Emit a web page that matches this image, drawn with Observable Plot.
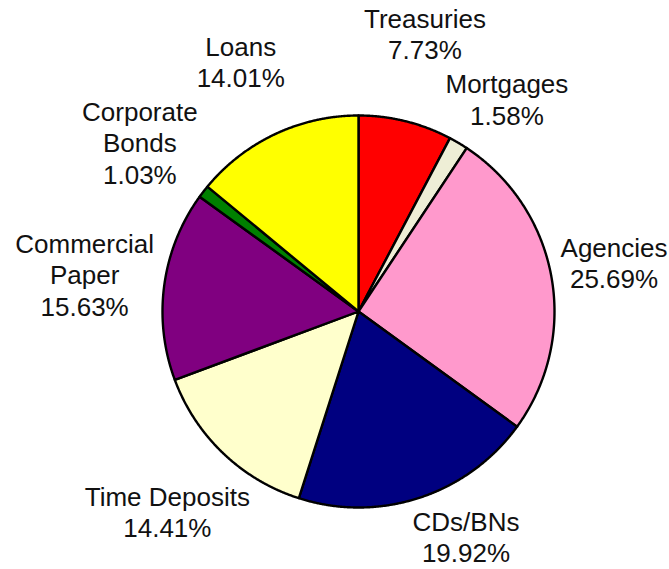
<!DOCTYPE html>
<html>
<head>
<meta charset="utf-8">
<script src="https://cdn.jsdelivr.net/npm/d3@7"></script>
<script src="https://cdn.jsdelivr.net/npm/@observablehq/plot@0.6"></script>
<style>
  html, body { margin: 0; padding: 0; background: #ffffff; }
  #chart svg { display: block; }
</style>
</head>
<body>
<div id="chart"></div>
<script>
// ---- data ----
const categories = ["Treasuries", "Mortgages", "Agencies", "CDs/BNs", "Time Deposits", "Commercial Paper", "Corporate Bonds", "Loans"];
const labelNames = ["Treasuries", "Mortgages", "Agencies", "CDs/BNs", "Time Deposits", "Commercial\nPaper", "Corporate\nBonds", "Loans"];
const shares = [7.73, 1.58, 25.69, 19.92, 14.41, 15.63, 1.03, 14.01];
// ---- style ----
const colors = ["#ff0000", "#eeeed6", "#ff99cc", "#000080", "#ffffcc", "#800080", "#008000", "#ffff00"];

const W = 669, H = 569, cx = 358, cy = 311, r = 196;
const FONT = "'Liberation Sans', Arial, sans-serif";
const fontSize = 26, lineH = 1.2;

const arcs = d3.pie().sort(null).value(d => d)(shares);

// slice outlines in unit-circle coordinates (angle clockwise from 12 o'clock)
const slicePts = arcs.map(a => {
  const pts = [{x: 0, y: 0}];
  const n = Math.max(4, Math.ceil((a.endAngle - a.startAngle) / (Math.PI / 720)));
  for (let k = 0; k <= n; k++) {
    const t = a.startAngle + (a.endAngle - a.startAngle) * k / n;
    pts.push({x: Math.sin(t), y: Math.cos(t)});
  }
  pts.push({x: 0, y: 0});
  return pts;
});

// ---- label layout: radial start, then keep clear of pie, each other and edges ----
const ctx = document.createElement("canvas").getContext("2d");
ctx.font = `${fontSize}px ${FONT}`;
const texts = arcs.map((a, i) => labelNames[i] + "\n" + shares[i].toFixed(2) + "%");
const boxes = arcs.map((a, i) => {
  const lines = texts[i].split("\n");
  const w = Math.max(...lines.map(l => ctx.measureText(l).width));
  const h = lines.length * fontSize * lineH;
  const m = (a.startAngle + a.endAngle) / 2;
  const R = 1.41 * r;
  return {w, h, m, px: cx + R * Math.sin(m), py: cy - R * Math.cos(m)};
});
const gap = 5, pad = 3, edge = 2;
for (let it = 0; it < 400; it++) {
  // out of the pie
  for (const b of boxes) {
    const nx = Math.max(b.px - b.w / 2, Math.min(cx, b.px + b.w / 2));
    const ny = Math.max(b.py - b.h / 2, Math.min(cy, b.py + b.h / 2));
    const d = Math.hypot(nx - cx, ny - cy);
    if (d < r + gap) {
      const k = (r + gap - d) * 0.5;
      b.px += k * Math.sin(b.m);
      b.py -= k * Math.cos(b.m);
    }
  }
  // apart from each other
  for (let i = 0; i < boxes.length; i++) for (let j = i + 1; j < boxes.length; j++) {
    const A = boxes[i], B = boxes[j];
    const ox = (A.w + B.w) / 2 + pad - Math.abs(A.px - B.px);
    const oy = (A.h + B.h) / 2 + pad - Math.abs(A.py - B.py);
    if (ox > 0 && oy > 0) {
      if (ox < oy) {
        const s = Math.sign(B.px - A.px) || 1;
        A.px -= s * ox * 0.25; B.px += s * ox * 0.25;
      } else {
        const s = Math.sign(B.py - A.py) || 1;
        A.py -= s * oy * 0.25; B.py += s * oy * 0.25;
      }
    }
  }
  // inside the picture
  for (const b of boxes) {
    b.px = Math.max(edge + b.w / 2, Math.min(W - edge - b.w / 2, b.px));
    b.py = Math.max(edge + b.h / 2, Math.min(H - edge - b.h / 2, b.py));
  }
}
const labels = boxes.map((b, i) => ({x: (b.px - cx) / r, y: (cy - b.py) / r, text: texts[i]}));

const chart = Plot.plot({
  width: W,
  height: H,
  margin: 0,
  style: {background: "#ffffff", fontFamily: FONT},
  x: {domain: [-cx / r, (W - cx) / r], axis: null},
  y: {domain: [-(H - cy) / r, cy / r], axis: null},
  marks: [
    ...slicePts.map((pts, i) => Plot.line(pts, {
      x: "x", y: "y", fill: colors[i], stroke: "#000000", strokeWidth: 2.4,
      strokeLinejoin: "round", curve: "linear-closed"
    })),
    Plot.text(labels, {
      x: "x", y: "y", text: "text", fontSize, lineHeight: lineH,
      fill: "#111111", textAnchor: "middle", fontFamily: FONT
    })
  ]
});
document.getElementById("chart").appendChild(chart);
</script>
</body>
</html>
